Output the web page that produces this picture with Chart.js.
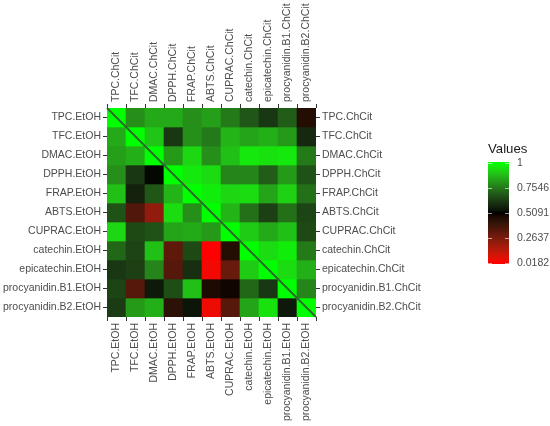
<!DOCTYPE html>
<html>
<head>
<meta charset="utf-8">
<script src="https://cdn.jsdelivr.net/npm/chart.js@4/dist/chart.umd.min.js"></script>
<style>
  html, body { margin: 0; padding: 0; background: #ffffff; }
  #wrap { width: 550px; height: 426px; }
</style>
</head>
<body>
<div id="wrap"><canvas id="c" width="550" height="426"></canvas></div>
<script>
// ---- data ----
const rowLabelsEtOH = ['TPC.EtOH','TFC.EtOH','DMAC.EtOH','DPPH.EtOH','FRAP.EtOH','ABTS.EtOH','CUPRAC.EtOH','catechin.EtOH','epicatechin.EtOH','procyanidin.B1.EtOH','procyanidin.B2.EtOH'];
const rowLabelsChCit = ['TPC.ChCit','TFC.ChCit','DMAC.ChCit','DPPH.ChCit','FRAP.ChCit','ABTS.ChCit','CUPRAC.ChCit','catechin.ChCit','epicatechin.ChCit','procyanidin.B1.ChCit','procyanidin.B2.ChCit'];
const colLabelsEtOH = rowLabelsEtOH.slice();
const colLabelsChCit = rowLabelsChCit.slice();

const rowTPC         = [1.00, 0.80, 0.85, 0.85, 0.80, 0.83, 0.76, 0.69, 0.62, 0.70, 0.45];
const rowTFC         = [0.85, 1.00, 0.90, 0.62, 0.80, 0.76, 0.87, 0.84, 0.86, 0.82, 0.59];
const rowDMAC        = [0.83, 0.86, 1.00, 0.82, 0.93, 0.80, 0.89, 0.96, 0.95, 0.96, 0.76];
const rowDPPH        = [0.80, 0.62, 0.52, 1.00, 0.96, 0.94, 0.78, 0.78, 0.70, 0.82, 0.68];
const rowFRAP        = [0.89, 0.57, 0.69, 0.87, 1.00, 0.97, 0.93, 0.94, 0.84, 0.92, 0.74];
const rowABTS        = [0.68, 0.35, 0.22, 0.94, 0.80, 1.00, 0.87, 0.74, 0.64, 0.74, 0.65];
const rowCUPRAC      = [0.93, 0.66, 0.68, 0.84, 0.85, 0.82, 1.00, 0.91, 0.85, 0.89, 0.66];
const rowCatechin    = [0.72, 0.65, 0.89, 0.32, 0.66, 0.0182, 0.45, 1.00, 0.94, 0.97, 0.76];
const rowEpicatechin = [0.62, 0.64, 0.78, 0.34, 0.60, 0.04, 0.30, 0.91, 1.00, 0.94, 0.86];
const rowB1          = [0.65, 0.34, 0.55, 0.67, 0.89, 0.47, 0.49, 0.72, 0.62, 1.00, 0.78];
const rowB2          = [0.63, 0.82, 0.86, 0.43, 0.54, 0.05, 0.34, 0.84, 0.95, 0.55, 1.00];
const matrixRows = [rowTPC,rowTFC,rowDMAC,rowDPPH,rowFRAP,rowABTS,rowCUPRAC,rowCatechin,rowEpicatechin,rowB1,rowB2];

const legendTicks = [1, 0.7546, 0.5091, 0.2637, 0.0182];
const legendTitle = 'Values';
const valueMin = 0.0182, valueMax = 1;

// ---- colour (Lab interpolation red -> black -> green) ----
function lin(c){ c/=255; return c<=0.04045 ? c/12.92 : Math.pow((c+0.055)/1.055, 2.4); }
function unlin(c){ c = c<=0.0031308 ? 12.92*c : 1.055*Math.pow(c,1/2.4)-0.055; return Math.round(Math.max(0,Math.min(1,c))*255); }
const Xn=0.95047, Yn=1, Zn=1.08883;
function fLab(t){ return t>0.008856 ? Math.cbrt(t) : 7.787*t + 16/116; }
function fInv(t){ return t>0.206893 ? t*t*t : (t-16/116)/7.787; }
function toLab(rgb){
  const r=lin(rgb[0]), g=lin(rgb[1]), b=lin(rgb[2]);
  const X=(0.4124*r+0.3576*g+0.1805*b)/Xn, Y=(0.2126*r+0.7152*g+0.0722*b)/Yn, Z=(0.0193*r+0.1192*g+0.9505*b)/Zn;
  const fx=fLab(X), fy=fLab(Y), fz=fLab(Z);
  return [116*fy-16, 500*(fx-fy), 200*(fy-fz)];
}
function fromLab(lab){
  const fy=(lab[0]+16)/116, fx=fy+lab[1]/500, fz=fy-lab[2]/200;
  const X=fInv(fx)*Xn, Y=fInv(fy)*Yn, Z=fInv(fz)*Zn;
  const r= 3.2406*X-1.5372*Y-0.4986*Z, g=-0.9689*X+1.8758*Y+0.0415*Z, b=0.0557*X-0.2040*Y+1.0570*Z;
  return [unlin(r),unlin(g),unlin(b)];
}
const labLow=toLab([255,0,0]), labMid=toLab([0,0,0]), labHigh=toLab([0,255,0]);
function colorFor(v){
  let t=(v-valueMin)/(valueMax-valueMin); t=Math.max(0,Math.min(1,t));
  let a,b,u;
  if(t<0.5){ a=labLow; b=labMid; u=t/0.5; } else { a=labMid; b=labHigh; u=(t-0.5)/0.5; }
  const lab=[a[0]+(b[0]-a[0])*u, a[1]+(b[1]-a[1])*u, a[2]+(b[2]-a[2])*u];
  const c=fromLab(lab);
  return 'rgb('+c[0]+','+c[1]+','+c[2]+')';
}

// ---- datasets: one floating-bar dataset per row ----
const datasets = matrixRows.map((vals, i) => ({
  label: rowLabelsEtOH[i],
  data: vals.map(() => [i - 0.5, i + 0.5]),
  backgroundColor: vals.map(colorFor),
  borderWidth: 0,
  barPercentage: 1,
  categoryPercentage: 1,
  grouped: false,
  xAxisID: 'x',
  yAxisID: 'y'
}));

const FONT = "'Liberation Sans', Arial, Helvetica, sans-serif";
const TXT = '#4d4d4d';

function catAxis(position, labels, h, lblOff){
  return {
    type: 'category', position, labels, offset: true,
    grid: { display: true, drawOnChartArea: false, drawTicks: true, tickLength: 4, tickColor: '#333333', tickWidth: 1 },
    border: { display: false },
    ticks: { autoSkip: false, maxRotation: 90, minRotation: 90, color: TXT, padding: 2, labelOffset: lblOff, font: { family: FONT, size: 10.5 } },
    afterFit: s => { s.height = h; }
  };
}
function linAxis(position, labels, w){
  return {
    type: 'linear', position, min: -0.5, max: 10.5, reverse: true,
    afterBuildTicks: s => { s.ticks = labels.map((_, i) => ({ value: i })); },
    grid: { display: true, drawOnChartArea: false, drawTicks: true, tickLength: 4, tickColor: '#333333', tickWidth: 1 },
    border: { display: false },
    ticks: { autoSkip: false, color: TXT, padding: 2, font: { family: FONT, size: 10.5 }, callback: v => labels[v] },
    afterFit: s => { s.width = w; }
  };
}

const extras = {
  id: 'extras',
  afterDatasetsDraw(chart){
    const ctx = chart.ctx, x = chart.scales.x, y = chart.scales.y;
    const n = matrixRows.length;
    const x0 = x.getPixelForValue(0) - (x.getPixelForValue(1) - x.getPixelForValue(0)) / 2;
    const x1 = x.getPixelForValue(n - 1) + (x.getPixelForValue(1) - x.getPixelForValue(0)) / 2;
    ctx.save();
    ctx.strokeStyle = '#2f632f';
    ctx.lineWidth = 1.8;
    ctx.beginPath();
    ctx.moveTo(x0, y.getPixelForValue(-0.5));
    ctx.lineTo(x1, y.getPixelForValue(n - 0.5));
    ctx.stroke();
    ctx.restore();
  },
  afterDraw(chart){
    const ctx = chart.ctx;
    const bx = 488, bw = 21, top = 163, bottom = 263;
    const posOf = v => top + (valueMax - v) / (valueMax - valueMin) * (bottom - top);
    ctx.save();
    const grad = ctx.createLinearGradient(0, top, 0, bottom);
    for (let k = 0; k <= 40; k++) {
      const v = valueMax - (valueMax - valueMin) * k / 40;
      grad.addColorStop(k / 40, colorFor(v));
    }
    ctx.fillStyle = grad;
    ctx.fillRect(bx, top - 1, bw, bottom - top + 2);
    ctx.strokeStyle = 'rgba(255,255,255,0.6)';
    ctx.lineWidth = 1;
    ctx.font = '10.5px ' + FONT;
    ctx.fillStyle = TXT;
    ctx.textBaseline = 'middle';
    ctx.textAlign = 'left';
    legendTicks.forEach(v => {
      const py = Math.round(posOf(v)) + 0.5;
      ctx.beginPath();
      ctx.moveTo(bx, py); ctx.lineTo(bx + 4, py);
      ctx.moveTo(bx + bw - 4, py); ctx.lineTo(bx + bw, py);
      ctx.stroke();
      ctx.fillText(String(v), bx + bw + 8, posOf(v));
    });
    ctx.fillStyle = '#1a1a1a';
    ctx.font = '13.2px ' + FONT;
    ctx.textBaseline = 'alphabetic';
    ctx.fillText(legendTitle, bx, 153);
    ctx.restore();
  }
};

new Chart(document.getElementById('c'), {
  type: 'bar',
  data: { labels: colLabelsEtOH, datasets },
  options: {
    responsive: false,
    animation: false,
    devicePixelRatio: 1,
    layout: { padding: 0 },
    plugins: { legend: { display: false }, tooltip: { enabled: false } },
    scales: {
      x: catAxis('bottom', colLabelsEtOH, 109, 0),
      x2: Object.assign(catAxis('top', colLabelsChCit, 108, 12), { display: true }),
      y: linAxis('left', rowLabelsEtOH, 107),
      y2: Object.assign(linAxis('right', rowLabelsChCit, 234), { display: true })
    }
  },
  plugins: [extras]
});
</script>
</body>
</html>
